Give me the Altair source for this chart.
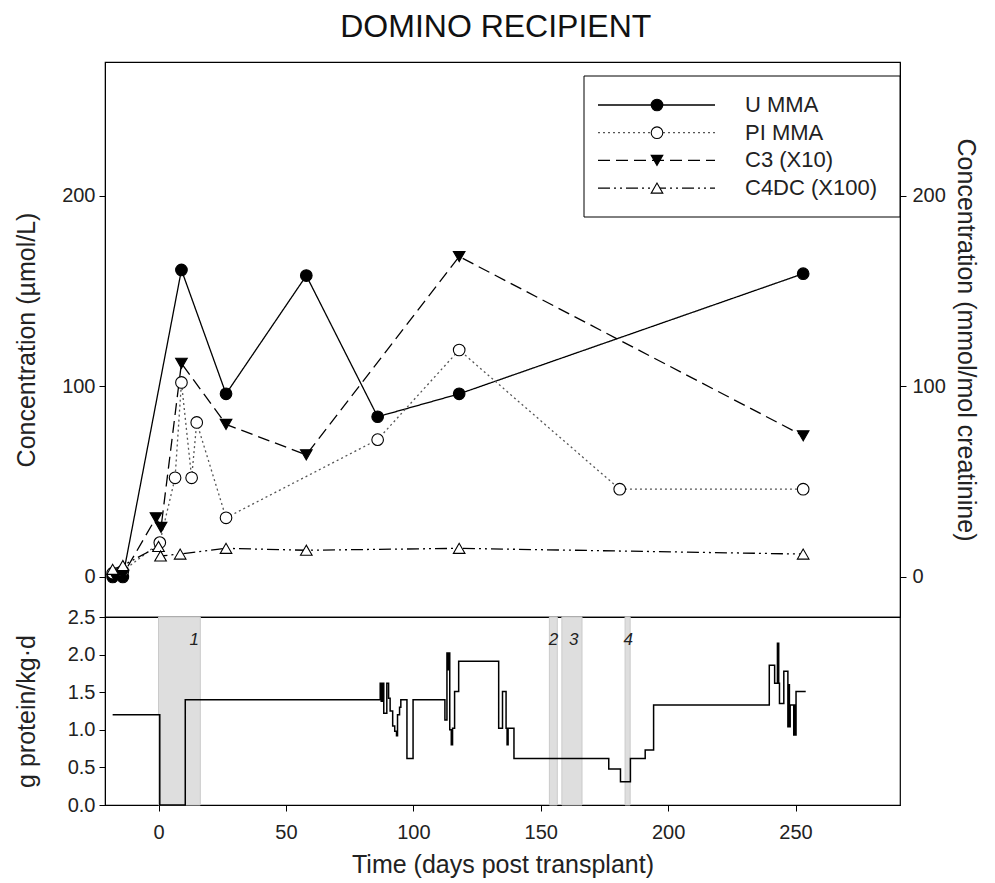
import altair as alt
import pandas as pd

FONT = "Liberation Sans"

# ---------------- data ----------------
series_names = ["U MMA", "PI MMA", "C3 (X10)", "C4DC (X100)"]

umma_days = [-18, -14, 9, 26.5, 58, 86, 118, 253]
umma_vals = [0, 0, 161, 96, 158, 84, 96, 159]

pimma_days = [-18, -14, 0.5, 6.5, 9, 13, 15, 26.5, 86, 118, 181, 253]
pimma_vals = [2, 3, 18, 52, 102, 52, 81, 31, 72, 119, 46, 46]

c3_days = [-17, -14, -1, 1, 9, 26.5, 58, 118, 253]
c3_vals = [0, 1, 31, 26, 112, 80, 64, 168, 74]

c4dc_days = [-18, -14, 0, 0.8, 8.5, 26.5, 58, 118, 253]
c4dc_vals = [4, 6, 16, 11, 12, 15, 14, 15, 12]

protein_days = [-18, 0.5, 10.5, 87.0, 87.4, 87.8, 88.4, 89.6, 90.3, 90.9, 91.9, 92.7, 93.4, 93.8, 94.6, 95.1, 97.5, 99.9,
                112.4, 113.2, 113.6, 113.9, 114.3, 114.9, 115.4, 116.2, 117.8,
                133.5, 135.0, 136.4, 136.8, 137.2, 139.5,
                176.7, 181.3, 185.2, 191.0, 194.3,
                239.7, 241.8, 242.9, 243.4, 243.7, 245.4, 247.0, 247.3, 247.6, 247.9, 249.3, 249.6, 249.9, 250.2, 254]
protein_vals = [1.2, 0, 1.4, 1.62, 1.38, 1.62, 1.22, 1.62, 1.42, 1.25, 1.05, 0.98, 0.92, 1.2, 1.3, 1.4, 0.62, 1.4,
                1.13, 2.02, 1.8, 2.02, 1.0, 0.8, 1.02, 1.51, 1.91,
                1.02, 1.51, 1.02, 0.8, 1.02, 0.62,
                0.48, 0.31, 0.62, 0.73, 1.33,
                1.86, 1.62, 2.15, 1.62, 1.35, 1.78, 1.04, 1.6, 1.04, 1.33, 0.93, 1.33, 0.93, 1.51, 1.51]

band_starts = [0, 153.4, 158.3, 183.1]
band_ends = [16.4, 156.5, 166.2, 185.1]
band_labels = ["1", "2", "3", "4"]
band_label_days = [14, 155, 163, 184.3]

x_ticks = [0, 50, 100, 150, 200, 250]
top_ticks = [0, 100, 200]
bottom_ticks = [0.0, 0.5, 1.0, 1.5, 2.0, 2.5]

# ---------------- build tables ----------------
rows = []
for name, d, v in zip(series_names,
                      [umma_days, pimma_days, c3_days, c4dc_days],
                      [umma_vals, pimma_vals, c3_vals, c4dc_vals]):
    for a, b in zip(d, v):
        rows.append({"series": name, "day": a, "value": b})
df = pd.DataFrame(rows)

prot = pd.DataFrame({"day": protein_days, "g": protein_vals})
bands = pd.DataFrame({"start": band_starts, "end": band_ends})
blabels = pd.DataFrame({"day": band_label_days, "label": band_labels})

# ---------------- styles ----------------
W, H_TOP, H_BOT = 795, 555, 188
dash_range = [[1, 0], [2, 3], [12, 6], [12, 4, 2, 4, 2, 4]]
line_colors = ["black", "#555555", "black", "black"]
shapes = ["circle", "circle", "triangle-down", "triangle-up"]
fills = ["black", "white", "black", "white"]

xscale = alt.Scale(domain=[-21, 291], nice=False, zero=False)
ytop = alt.Scale(domain=[-21, 270], nice=False, zero=False)
ybot = alt.Scale(domain=[0, 2.5], nice=False, zero=False)

left_axis = alt.Axis(title="Concentration (µmol/L)", values=top_ticks, titlePadding=22, grid=False)

lines = alt.Chart(df).mark_line(strokeWidth=1.3).encode(
    x=alt.X("day:Q", scale=xscale, axis=None),
    y=alt.Y("value:Q", scale=ytop, axis=left_axis),
    color=alt.Color("series:N", scale=alt.Scale(domain=series_names, range=line_colors), legend=None),
    strokeDash=alt.StrokeDash("series:N", scale=alt.Scale(domain=series_names, range=dash_range), legend=None),
    detail="series:N",
)
points = alt.Chart(df).mark_point(filled=True, stroke="black", strokeWidth=1.1, opacity=1).encode(
    x=alt.X("day:Q", scale=xscale, axis=None),
    y=alt.Y("value:Q", scale=ytop, axis=left_axis),
    shape=alt.Shape("series:N", scale=alt.Scale(domain=series_names, range=shapes), legend=None),
    fill=alt.Fill("series:N", scale=alt.Scale(domain=series_names, range=fills), legend=None),
    size=alt.value(135),
)

# legend (drawn by hand)
one = pd.DataFrame({"k": [0]})
legend_layers = [
    alt.Chart(one).mark_rect(fill="white", stroke="black", strokeWidth=1).encode(
        x=alt.value(479), x2=alt.value(W), y=alt.value(14), y2=alt.value(155))
]
for i, name in enumerate(series_names):
    yy = 43 + 27.7 * i
    legend_layers.append(alt.Chart(one).mark_rule(strokeWidth=1.3, color=line_colors[i], strokeDash=dash_range[i]).encode(
        x=alt.value(493), x2=alt.value(610), y=alt.value(yy)))
    legend_layers.append(alt.Chart(one).mark_point(filled=True, stroke="black", strokeWidth=1.1, opacity=1,
                                                   shape=shapes[i], fill=fills[i], size=135).encode(
        x=alt.value(552), y=alt.value(yy)))
    legend_layers.append(alt.Chart(one).mark_text(align="left", baseline="middle", font=FONT, fontSize=22,
                                                  color="#222222").encode(
        x=alt.value(640), y=alt.value(yy), text=alt.value(name)))

right = alt.Chart(pd.DataFrame({"v": [0, 200]})).mark_point(opacity=0).encode(
    x=alt.value(0),
    y=alt.Y("v:Q", scale=ytop, axis=alt.Axis(orient="right", title="Concentration (mmol/mol creatinine)",
                                              values=top_ticks, labelPadding=6, titlePadding=7, grid=False)),
)

top = alt.layer(alt.layer(lines, points), *legend_layers, right).resolve_scale(y="independent").properties(
    width=W, height=H_TOP)

# bottom panel
bx_axis = alt.Axis(title="Time (days post transplant)", values=x_ticks, grid=False, labelPadding=11,
                   titlePadding=10)
band_marks = alt.Chart(bands).mark_rect(fill="#dedede", stroke="#cacaca", strokeWidth=1).encode(
    x=alt.X("start:Q", scale=xscale, axis=bx_axis), x2="end:Q", y=alt.value(0), y2=alt.value(H_BOT))
label_marks = alt.Chart(blabels).mark_text(font=FONT, fontSize=17, fontStyle="italic", color="#222222").encode(
    x=alt.X("day:Q", scale=xscale, axis=bx_axis), y=alt.value(23), text="label:N")
prot_line = alt.Chart(prot).mark_line(interpolate="step-after", color="black", strokeWidth=1.5).encode(
    x=alt.X("day:Q", scale=xscale, axis=bx_axis),
    y=alt.Y("g:Q", scale=ybot, axis=alt.Axis(title="g protein/kg·d", values=bottom_ticks, format=".1f",
                                               titlePadding=28, grid=False)))
bottom = alt.layer(band_marks, label_marks, prot_line).properties(width=W, height=H_BOT)

chart = alt.vconcat(top, bottom, spacing=0, bounds="flush").properties(
    title=alt.TitleParams("DOMINO RECIPIENT", fontSize=32, font=FONT, fontWeight="normal", anchor="middle",
                          color="#111111", offset=17),
    padding={"left": 5, "top": 3, "right": 5, "bottom": 5},
).configure_view(stroke="black", strokeWidth=1.2).configure_axis(
    labelFont=FONT, labelFontSize=20, labelColor="#222222",
    titleFont=FONT, titleFontSize=25, titleFontWeight="normal", titleColor="#222222",
    tickColor="black", domainColor="black", tickSize=6, labelPadding=4,
)

chart.save("out.html", embed_options={"renderer": "svg", "actions": False})
